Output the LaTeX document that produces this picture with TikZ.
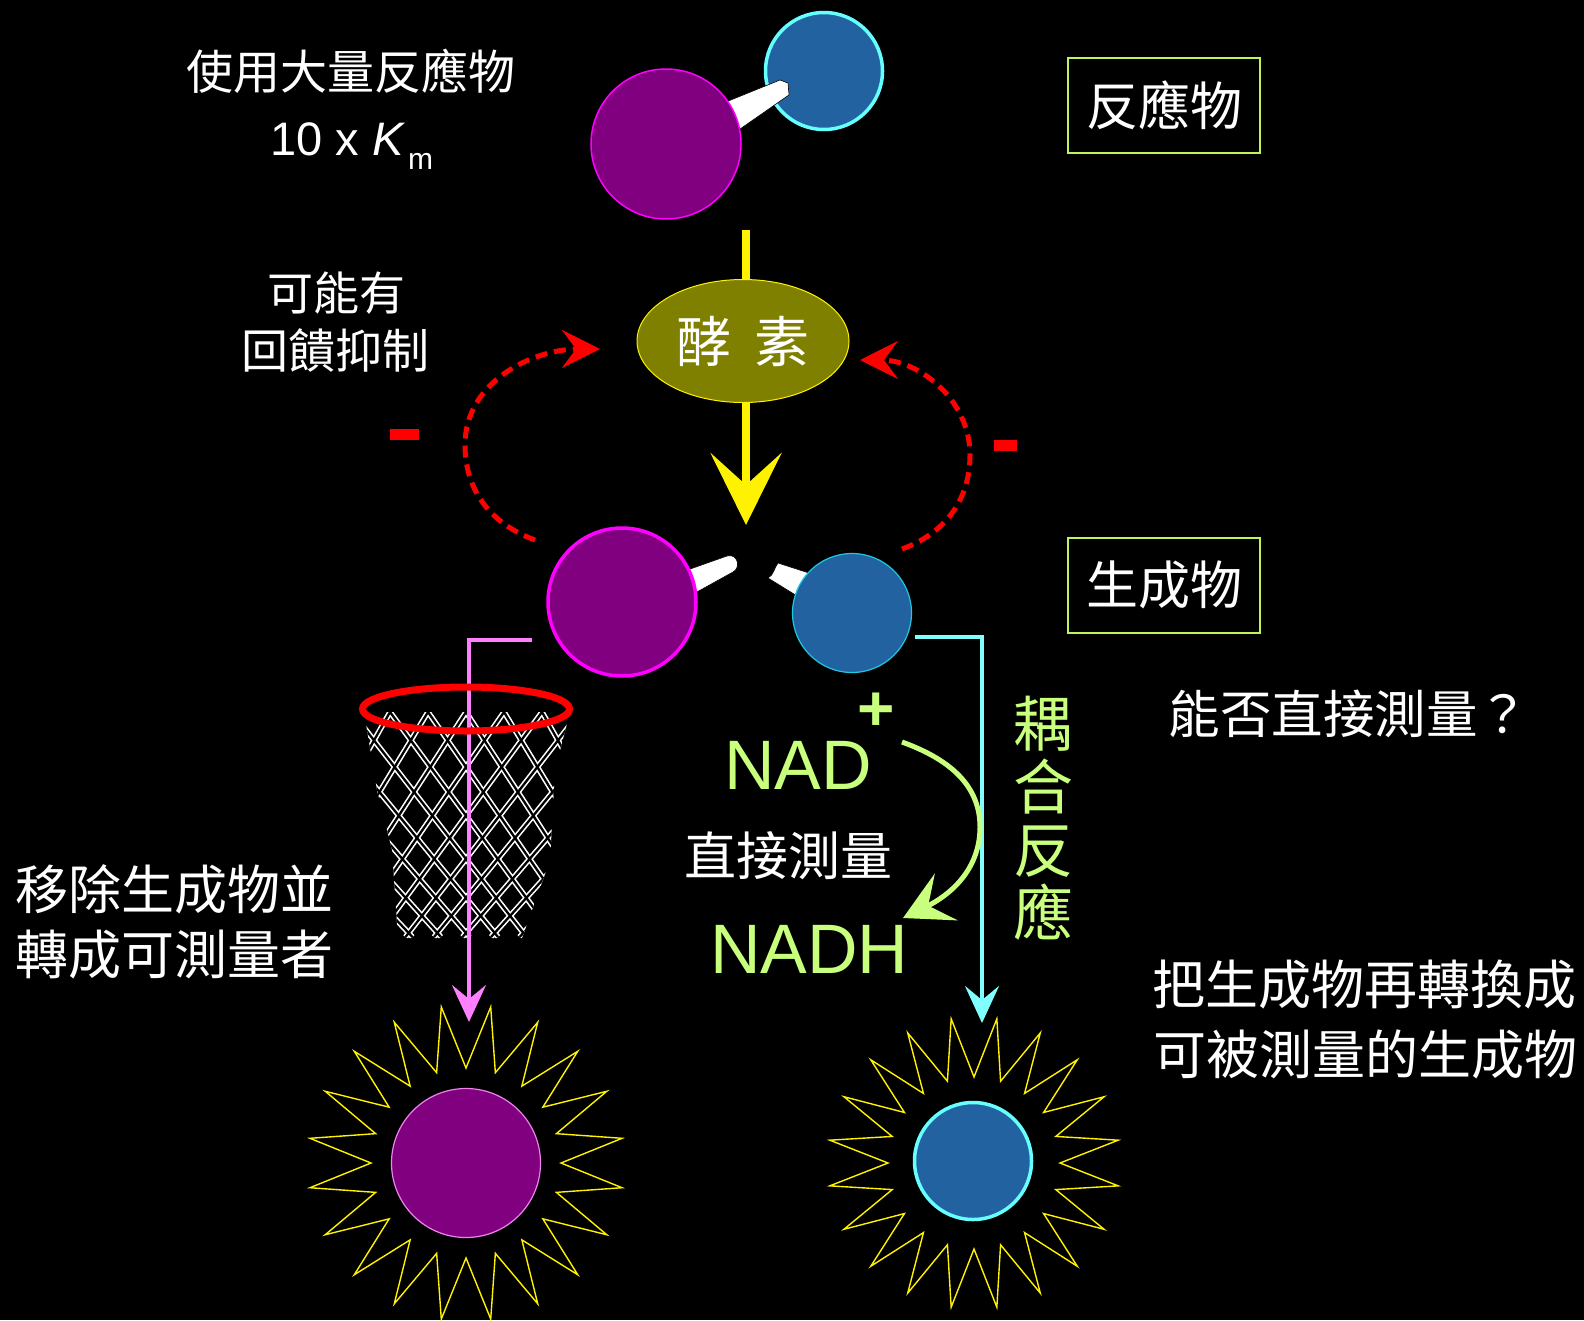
\documentclass[tikz,border=0pt]{standalone}
\usepackage{fontspec}
\setmainfont{Liberation Sans}
\newfontfamily\cjk{Noto Sans CJK TC}
\usetikzlibrary{arrows.meta,shapes.geometric}

\definecolor{grape}{RGB}{128,0,128}
\definecolor{hotpink}{RGB}{255,0,255}
\definecolor{ball}{RGB}{35,98,160}
\definecolor{aqua}{RGB}{102,255,255}
\definecolor{tealrim}{RGB}{30,200,225}
\definecolor{orchidrim}{RGB}{238,130,238}
\definecolor{pinkline}{RGB}{255,128,255}
\definecolor{cyanline}{RGB}{128,255,255}
\definecolor{olivefill}{RGB}{128,128,0}
\definecolor{limebox}{RGB}{190,245,90}
\definecolor{mint}{RGB}{200,255,125}

\newcommand\cjksize[1]{\cjk\fontsize{#1}{#1}\selectfont}

\begin{document}
\begin{tikzpicture}[x=1pt,y=-1pt,
  atom/.style={circle, inner sep=0pt, minimum size=#1},
  wtext/.style={text=white, inner sep=0pt},
  labelbox/.style={draw=limebox, line width=2pt, minimum width=192pt, minimum height=95pt, inner sep=0pt, text=white},
  feedback/.style={draw=red, line width=5pt, dash pattern=on 12pt off 7pt, -{Stealth[length=38pt,width=38pt,inset=14pt]}},
  flowline/.style={line width=4pt, -{Stealth[length=37pt,width=34pt,inset=14pt]}},
  bond/.style={fill=white, draw=black, line width=0.6pt},
  sunray/.style={draw=yellow, line width=1.4pt, line join=miter},
  netout/.style={white, line width=5.5pt},
  netin/.style={black, line width=2.3pt},
  minusbar/.style={fill=red, minimum width=#1, minimum height=11pt, inner sep=0pt},
]
% canvas
\fill[black] (0,0) rectangle (1584,1320);
\useasboundingbox (0,0) rectangle (1584,1320);

% ---- enzymatic step ----
\coordinate (ytop) at (746,230);
\coordinate (ytip) at (746,525);
\draw[yellow, line width=8pt, -{Stealth[length=72pt,width=71pt,inset=32pt]}] (ytop) -- (ytip);
\node[ellipse, minimum width=212pt, minimum height=123pt, inner sep=0pt,
      fill=olivefill, draw=yellow, line width=1pt, text=white,
      font=\cjksize{55}] (enz) at (743,341) {酵\hspace{24pt}素};

% feedback inhibition loops
\coordinate (fbL1) at (535,540);
\coordinate (fbL2) at (600,349);
\coordinate (fbR1) at (902,549);
\coordinate (fbR2) at (860,360);
\draw[feedback] (fbL1) to[out=160,in=-90] (465,445) to[out=90,in=180] (fbL2);
\draw[feedback] (fbR1) to[out=20,in=-90] (970,455) to[out=90,in=0] (fbR2);
\node[minusbar=29pt] (minL) at (404.5,434.5) {};
\node[minusbar=23pt] (minR) at (1005.5,445) {};

% ---- substrate molecule ----
\node[atom=117pt, fill=ball, draw=aqua, line width=3.5pt] (subB) at (824,71) {};
\fill[bond] (716,106) -- (780,80) -- (788,83) -- (789,95) -- (786,97) -- (730,136) -- cycle;
\node[atom=150pt, fill=grape, draw=hotpink, line width=1.5pt] (subA) at (666,144) {};

% ---- products ----
\fill[bond] (676,574) -- (727,556) .. controls (738,553) and (741,568) .. (733,572) -- (686,598) -- cycle;
\node[atom=148pt, fill=grape, draw=hotpink, line width=3.5pt] (prodA) at (622,602) {};
\fill[bond] (778,563) .. controls (774,568) and (774,575) .. (768,578) -- (802,599) -- (812,574) -- cycle;
\node[atom=119pt, fill=ball, draw=tealrim, line width=1.2pt] (prodB) at (852,613) {};

% ---- basket net ----
\begin{scope}
  \clip (364,712) -- (570,712) -- (555,770) -- (550,860) -- (522,938) -- (398,938) -- (392,850) -- (377,790) -- cycle;
  \foreach \s in {-1,1} \foreach \k in {-10,...,10}
    \draw[netout] plot[smooth, samples=7, domain=0:1, variable=\t]
      ({466+\k*38*(1-0.25*\t)+\s*146*\t},{712+225*\t});
  \foreach \s in {-1,1} \foreach \k in {-10,...,10}
    \draw[netin] plot[smooth, samples=7, domain=0:1, variable=\t]
      ({466+\k*38*(1-0.25*\t)+\s*146*\t},{712+225*\t});
\end{scope}

% route of the first product
\coordinate (pkS) at (532,640);
\coordinate (pkC) at (469,640);
\coordinate (pkE) at (469,1022);
\draw[flowline, pinkline] (pkS) -- (pkC) -- (pkE);
\node[ellipse, minimum width=207pt, minimum height=44pt, inner sep=0pt, draw=red, line width=7pt] (hoop) at (466,709) {};

% route of the second product
\coordinate (cyS) at (915,637);
\coordinate (cyC) at (982,637);
\coordinate (cyE) at (982,1023);
\draw[flowline, cyanline] (cyS) -- (cyC) -- (cyE);

% ---- measurable products ----
\draw[sunray] plot[samples at={0,...,39}, variable=\i]
  ({466+(mod(\i,2)==0 ? 95 : 158)*cos(90+9*\i)},{1163+(mod(\i,2)==0 ? 95 : 158)*sin(90+9*\i)}) -- cycle;
\node[atom=149pt, fill=grape, draw=orchidrim, line width=1.2pt] (sunA) at (466,1163) {};
\draw[sunray] plot[samples at={0,...,39}, variable=\i]
  ({974+(mod(\i,2)==0 ? 86 : 146)*cos(90+9*\i)},{1163+(mod(\i,2)==0 ? 86 : 146)*sin(90+9*\i)}) -- cycle;
\node[atom=117pt, fill=ball, draw=aqua, line width=3.5pt] (sunB) at (973,1161) {};

% ---- NAD+ -> NADH ----
\node[anchor=base west, inner sep=0pt, text=mint, font=\fontsize{70}{70}\selectfont] (nad) at (724,789) {NAD};
\node[inner sep=0pt, text=mint, font=\bfseries\fontsize{64}{64}\selectfont] (plus) at (876,712) {+};
\node[anchor=base west, inner sep=0pt, text=mint, font=\fontsize{70}{70}\selectfont] (nadh) at (710,973) {NADH};
\coordinate (gS) at (902,742);
\coordinate (gE) at (903,918);
\draw[mint, line width=5pt, -{Stealth[length=48pt,width=52pt,inset=20pt]}]
  (gS) to[out=-20,in=90] (980,827) to[out=-90,in=26] (gE);

% ---- labels ----
\node[labelbox, font=\cjksize{52}] (boxS) at (1164,105.5) {反應物};
\node[labelbox, font=\cjksize{52}] (boxP) at (1164,585) {生成物};

\node[wtext, font=\cjksize{47}] (t1) at (351,71) {使用大量反應物};
\node[anchor=base west, wtext, font=\fontsize{47}{47}\selectfont] (km) at (270,155)
  {10 x \textit{K}\hspace{3pt}\raisebox{-14pt}{\fontsize{30}{30}\selectfont m}};
\node[wtext, font=\cjksize{46}] (t2) at (336,293) {可能有};
\node[wtext, font=\cjksize{47}] (t3) at (335,350) {回饋抑制};
\node[wtext, font=\cjksize{51.5}] (t4) at (1349,714) {能否直接測量？};
\node[wtext, font=\cjksize{52}] (t5) at (788,856) {直接測量};
\node[inner sep=0pt, text=mint, align=center, font=\cjk\fontsize{60}{63}\selectfont] (t6) at (1043,818) {耦\\合\\反\\應};
\node[wtext, font=\cjksize{53}] (t7) at (174,889) {移除生成物並};
\node[wtext, font=\cjksize{53}] (t8) at (174,955) {轉成可測量者};
\node[wtext, font=\cjksize{53}] (t9) at (1364,985) {把生成物再轉換成};
\node[wtext, font=\cjksize{53}] (t10) at (1365,1054) {可被測量的生成物};
\end{tikzpicture}
\end{document}
